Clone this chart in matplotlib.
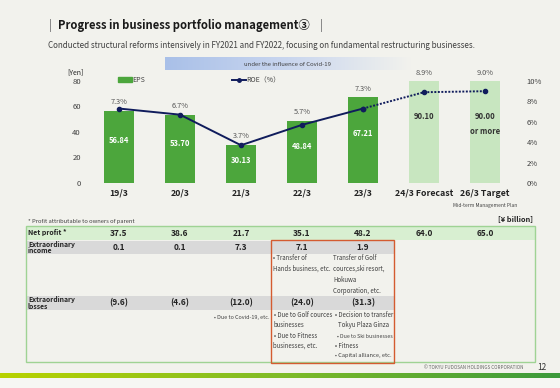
import numpy as np
import matplotlib.pyplot as plt
import matplotlib.transforms as mtransforms
from matplotlib.colors import LinearSegmentedColormap
from matplotlib.patches import Rectangle
from matplotlib.lines import Line2D
from matplotlib.patches import Patch

plt.rcParams['font.family'] = ['Noto Sans CJK JP', 'DejaVu Sans']

# data
categories = ['19/3', '20/3', '21/3', '22/3', '23/3', '24/3 Forecast', '26/3 Target']
eps = [56.84, 53.70, 30.13, 48.84, 67.21, 90.10, 90.00]
eps_text = ['56.84', '53.70', '30.13', '48.84', '67.21', '90.10', '90.00\nor more']
is_plan = [False, False, False, False, False, True, True]
roe = [7.3, 6.7, 3.7, 5.7, 7.3, 8.9, 9.0]
net_profit = ['37.5', '38.6', '21.7', '35.1', '48.2', '64.0', '65.0']
extra_income = ['0.1', '0.1', '7.3', '7.1', '1.9']
extra_losses = ['(9.6)', '(4.6)', '(12.0)', '(24.0)', '(31.3)']

W, H = 560, 388
BG = '#f2f2ed'
DARK_GREEN = '#4ca63c'
LIGHT_GREEN = '#c8e6c0'
NAVY = '#101c5c'
GREY = '#404040'


def fx(x):
    return x / W


def fy(y):
    return 1 - y / H


fig = plt.figure(figsize=(W / 100, H / 100), dpi=100, facecolor=BG)

# title area
fig.add_artist(Line2D([fx(50), fx(50)], [fy(19), fy(31)], color='#888888', lw=0.7))
fig.add_artist(Line2D([fx(321), fx(321)], [fy(19), fy(31)], color='#888888', lw=0.7))
fig.text(fx(58), fy(25), 'Progress in business portfolio management③', fontsize=8.1,
         fontweight='bold', color='#1a1a1a', va='center', ha='left')
fig.text(fx(48), fy(45), 'Conducted structural reforms intensively in FY2021 and FY2022, '
         'focusing on fundamental restructuring businesses.', fontsize=5.8, color=GREY,
         va='center', ha='left')

# covid band (gradient)
band = fig.add_axes([fx(165), fy(70), (410 - 165) / W, 13 / H])
band_cmap = LinearSegmentedColormap.from_list('band', ['#a9c0e8', '#c9d6ef', BG])
band.imshow(np.linspace(0, 1, 256).reshape(1, -1), aspect='auto', cmap=band_cmap)
band.axis('off')
fig.text(fx(287), fy(64), 'under the influence of Covid-19', fontsize=4.3, color=GREY,
         ha='center', va='center')

# main chart
ax = fig.add_axes([fx(88.5), fy(183), 427 / W, 102 / H])
ax.set_facecolor('none')
x = np.arange(len(categories))
colors = [LIGHT_GREEN if p else DARK_GREEN for p in is_plan]
ax.bar(x, eps, width=0.5, color=colors, zorder=1)
ax.set_ylim(0, 80)
ax.set_xlim(-0.5, len(categories) - 0.5)
ax.set_yticks([0, 20, 40, 60, 80])
ax.set_xticks(x)
ax.set_xticklabels(categories, fontsize=6.3, fontweight='bold', color='#222222')
ax.tick_params(axis='y', length=0, pad=5.5, labelsize=5.5, labelcolor=GREY)
ax.tick_params(axis='x', length=0, pad=4)
for s in ax.spines.values():
    s.set_visible(False)

for i, (v, t, p) in enumerate(zip(eps, eps_text, is_plan)):
    top = min(v, 80)
    if p:
        ax.text(i, top * 0.70, t, ha='center', va='top', fontsize=5.5, fontweight='bold',
                color='#333333', linespacing=1.9)
    else:
        ax.text(i, top * 0.58, t, ha='center', va='center', fontsize=5.5, fontweight='bold',
                color='white')
    ax.annotate(f'{roe[i]:.1f}%', (i, top), xytext=(0, 6), textcoords='offset points',
                ha='center', va='center', fontsize=5.3, color='#555555', annotation_clip=False)

ax2 = ax.twinx()
ax2.set_ylim(0, 10)
ax2.set_yticks([0, 2, 4, 6, 8, 10])
ax2.set_yticklabels([f'{v}%' for v in [0, 2, 4, 6, 8, 10]])
ax2.tick_params(axis='y', length=0, pad=8, labelsize=5.5, labelcolor=GREY)
for s in ax2.spines.values():
    s.set_visible(False)
ax2.plot(x[:5], roe[:5], color=NAVY, lw=1.4, marker='o', ms=3, zorder=3)
ax2.plot(x[4:], roe[4:], color=NAVY, lw=1.4, ls=(0, (1, 0.8)), marker='o', ms=3, zorder=3)

fig.text(fx(67), fy(72), '[Yen]', fontsize=5, color='#222222', ha='left', va='center')
ax.text(6, -17.5, 'Mid-term Management Plan', fontsize=3.5, color=GREY, ha='center',
        va='center', clip_on=False)

handles = [Patch(color=DARK_GREEN), Line2D([], [], color=NAVY, lw=1.4, marker='o', ms=2.5)]
fig.legend(handles, ['EPS', 'ROE（%）'], loc='center left', bbox_to_anchor=(fx(115), fy(80)),
           ncol=2, frameon=False, fontsize=5, handlelength=1.9, handleheight=0.6,
           handletextpad=0.15, columnspacing=12.5, borderpad=0, labelcolor=GREY)

# table
bt = mtransforms.blended_transform_factory(ax.transData, fig.transFigure)


def frect(x0, y0, x1, y1, **kw):
    fig.add_artist(Rectangle((fx(x0), fy(y1)), (x1 - x0) / W, (y1 - y0) / H, zorder=-1, **kw))


fig.text(fx(28), fy(222), '* Profit attributable to owners of parent', fontsize=4.2,
         color=GREY, va='center')
fig.text(fx(533), fy(219), '[¥ billion]', fontsize=5.3, fontweight='bold', color='#222222',
         ha='right', va='center')

frect(26, 226, 535, 240, facecolor='#d8efd1', edgecolor='none')
frect(26, 241, 394, 254, facecolor='#d9d9d9', edgecolor='none')
frect(26, 296, 394, 310, facecolor='#d9d9d9', edgecolor='none')
frect(26, 226, 535, 362, facecolor='none', edgecolor='#9fd394', lw=1)
frect(271, 240, 394, 363, facecolor='none', edgecolor='#d45b30', lw=1)

fig.text(fx(28), fy(233), 'Net profit *', fontsize=5.0, fontweight='bold', color='#222222',
         va='center')
fig.text(fx(28), fy(247.5), 'Extraordinary\nincome', fontsize=4.9, fontweight='bold',
         color='#222222', va='center', linespacing=0.85)
fig.text(fx(28), fy(303), 'Extraordinary\nlosses', fontsize=4.9, fontweight='bold',
         color='#222222', va='center', linespacing=0.85)

for i, v in enumerate(net_profit):
    ax.text(i, fy(233), v, transform=bt, ha='center', va='center', fontsize=6.0,
            fontweight='bold', color='#222222', clip_on=False)
for i, v in enumerate(extra_income):
    ax.text(i, fy(247.5), v, transform=bt, ha='center', va='center', fontsize=6.0,
            fontweight='bold', color='#222222', clip_on=False)
for i, v in enumerate(extra_losses):
    ax.text(i, fy(303), v, transform=bt, ha='center', va='center', fontsize=6.0,
            fontweight='bold', color='#222222', clip_on=False)

notes = [
    (273, 258, '• Transfer of', 4.4),
    (273, 268.5, 'Hands business, etc.', 4.4),
    (333, 258, 'Transfer of Golf', 4.4),
    (333, 269, 'cources,ski resort,', 4.4),
    (333, 280, 'Hokuwa', 4.4),
    (333, 291, 'Corporation, etc.', 4.4),
    (274, 315, '• Due to Golf cources', 4.4),
    (273, 325, 'businesses', 4.4),
    (274, 336, '• Due to Fitness', 4.4),
    (273, 346, 'businesses, etc.', 4.4),
    (335, 315, '• Decision to transfer', 4.4),
    (338, 325, 'Tokyu Plaza Ginza', 4.4),
    (337, 336, '• Due to Ski businesses', 3.8),
    (335, 346, '• Fitness', 4.4),
    (335, 356, '• Capital alliance, etc.', 4.1),
]
for nx, ny, t, fs in notes:
    fig.text(fx(nx), fy(ny), t, fontsize=fs, color=GREY, ha='left', va='center')
fig.text(fx(269), fy(318), '• Due to Covid-19, etc.', fontsize=3.9, color=GREY, ha='right',
         va='center')

# footer
fig.text(fx(523), fy(367.5), '© TOKYU FUDOSAN HOLDINGS CORPORATION', fontsize=3.3,
         color='#666666', ha='right', va='center')
fig.text(fx(537), fy(367.5), '12', fontsize=6, color='#333333', ha='left', va='center')
bar_ax = fig.add_axes([0, fy(378), 1, 5 / H])
bar_cmap = LinearSegmentedColormap.from_list('foot', ['#b8d200', '#7fbb28', '#3c9a3c'])
bar_ax.imshow(np.linspace(0, 1, 256).reshape(1, -1), aspect='auto', cmap=bar_cmap)
bar_ax.axis('off')
frect(0, 378, 560, 388, facecolor='#f6f6f3', edgecolor='none')

fig.savefig('out.png', dpi=100, facecolor=BG)
